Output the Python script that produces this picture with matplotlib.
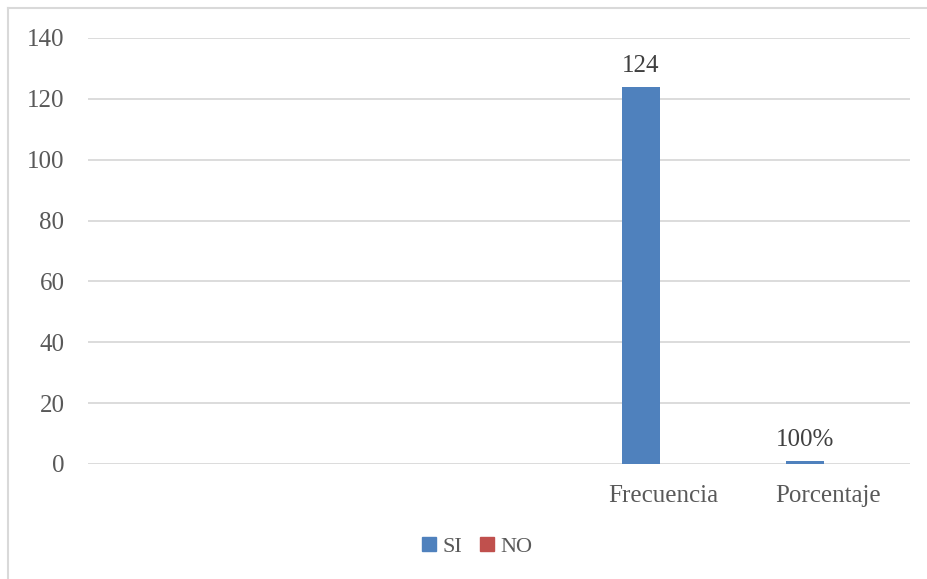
import numpy as np
import matplotlib
matplotlib.use("Agg")
import matplotlib.pyplot as plt
from matplotlib.lines import Line2D
from matplotlib.patches import Patch

categories = ["", "", "", "Frecuencia", "Porcentaje"]
si_values = [np.nan, np.nan, np.nan, 124, 1]
no_values = [np.nan, np.nan, np.nan, 0, 0]
si_labels = ["", "", "", "124", "100%"]
series_names = ["SI", "NO"]
yticks = [0, 20, 40, 60, 80, 100, 120, 140]

plt.rcParams["font.family"] = ["Liberation Serif", "DejaVu Serif"]
text_color = "#595959"
grid_color = "#d9d9d9"
c_si = "#4f81bd"
c_no = "#c0504d"

fig = plt.figure(figsize=(9.28, 5.79), dpi=100)
ax = fig.add_axes([88 / 928, 1 - 464 / 579, (910 - 88) / 928, (464 - 38) / 579])

x = np.arange(len(categories))
w = 0.231
off = 0.137
ax.bar(x - off, si_values, w, color=c_si, zorder=3)
ax.bar(x + off, no_values, w, color=c_no, zorder=3)

for xi, v, lab in zip(x, si_values, si_labels):
    if lab:
        ax.annotate(lab, (xi - off, v), xytext=(0, 10.5), textcoords="offset points",
                    ha="center", va="baseline", fontsize=18, color="#404040")

ax.set_xlim(-0.5, len(categories) - 0.5)
ax.set_ylim(0, 140)
ax.set_yticks(yticks)
ax.set_xticks(x)
ax.set_xticklabels(categories)
ax.tick_params(axis="both", length=0, labelsize=18, colors=text_color)
ax.tick_params(axis="y", pad=17)
ax.tick_params(axis="x", pad=15)
ax.grid(axis="y", color=grid_color, linewidth=1.3, zorder=4)
for s in ax.spines.values():
    s.set_visible(False)

handles = [Patch(color=c_si), Patch(color=c_no)]
fig.legend(handles, series_names, loc="center", bbox_to_anchor=(477 / 928, 1 - 547 / 579),
           ncol=2, frameon=False, fontsize=16, handlelength=0.62, handleheight=0.62,
           handletextpad=0.3, columnspacing=0.8, labelcolor=text_color)

fig.add_artist(Line2D([8 / 928, 1], [1 - 8 / 579, 1 - 8 / 579], transform=fig.transFigure,
                      color=grid_color, linewidth=1.5))
fig.add_artist(Line2D([8 / 928, 8 / 928], [0, 1 - 8 / 579], transform=fig.transFigure,
                      color=grid_color, linewidth=1.5))

fig.savefig("out.png", dpi=100)
